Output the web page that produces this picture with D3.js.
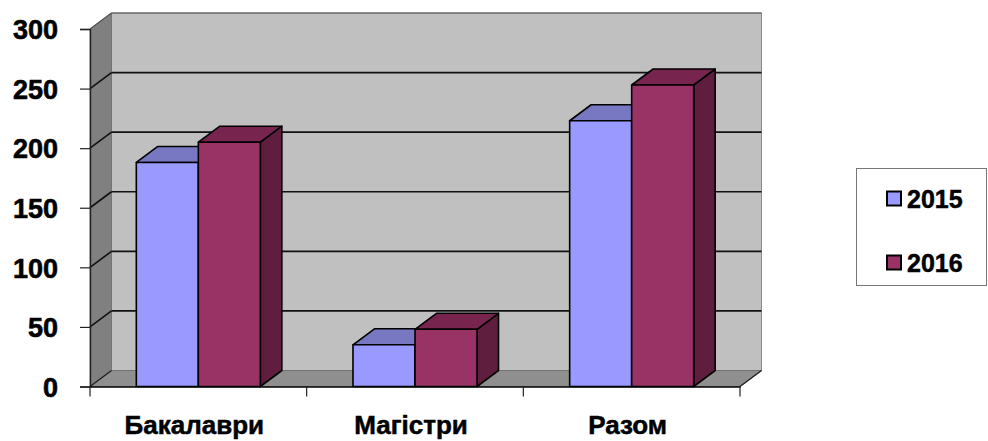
<!DOCTYPE html>
<html>
<head>
<meta charset="utf-8">
<script src="https://cdn.jsdelivr.net/npm/d3@7"></script>
<style>
  html, body { margin: 0; padding: 0; background: #ffffff; }
  svg { display: block; }
</style>
</head>
<body>
<svg id="chart" width="988" height="441"></svg>
<script>
const categories = ["Бакалаври", "Магістри", "Разом"];
const seriesNames = ["2015", "2016"];
const values2015 = [188, 35, 223];
const values2016 = [205, 48, 253];
const yTicks = [0, 50, 100, 150, 200, 250, 300];

const colors = {
  "2015": { front: "#9999ff", top: "#7777c2", side: "#5c5c99" },
  "2016": { front: "#993366", top: "#77244f", side: "#5f1e3e" }
};
const FONT = "'Liberation Sans', Arial, sans-serif";

const svg = d3.select("#chart");
const dx = 21.5, dy = -16;
const x0 = 90, x1 = 740;
const y = d3.scaleLinear().domain([0, 300]).range([386.5, 29]);
const x = d3.scaleBand().domain(categories).range([x0, x1]).paddingInner(0).paddingOuter(0);
const xs = d3.scaleBand().domain(seriesNames).range([0, x.bandwidth()]).paddingInner(0).paddingOuter(0.747);

const yTop = y(300), yBot = y(0);

// back wall
svg.append("polygon")
  .attr("points", [[x0+dx, yTop+dy], [x1+dx, yTop+dy], [x1+dx, yBot+dy], [x0+dx, yBot+dy]].join(" "))
  .attr("fill", "#c0c0c0").attr("stroke", "#8a8a8a").attr("stroke-width", 1);

// left wall
svg.append("polygon")
  .attr("points", [[x0, yTop], [x0+dx, yTop+dy], [x0+dx, yBot+dy], [x0, yBot]].join(" "))
  .attr("fill", "#808080").attr("stroke", "#707070").attr("stroke-width", 0.8);

// floor
svg.append("polygon")
  .attr("points", [[x0, yBot], [x1, yBot], [x1+dx, yBot+dy], [x0+dx, yBot+dy]].join(" "))
  .attr("fill", "#8f8f8f").attr("stroke", "#6a6a6a").attr("stroke-width", 0.8);

// gridlines
const grid = svg.append("g");
yTicks.filter(v => v > 0 && v < 300).forEach(v => {
  grid.append("line").attr("x1", x0+dx).attr("x2", x1+dx)
    .attr("y1", y(v)+dy).attr("y2", y(v)+dy)
    .attr("stroke", "#111").attr("stroke-width", 1.6);
  grid.append("line").attr("x1", x0).attr("x2", x0+dx)
    .attr("y1", y(v)).attr("y2", y(v)+dy)
    .attr("stroke", "#111").attr("stroke-width", 1.6);
});
grid.append("line").attr("x1", x0).attr("x2", x0+dx).attr("y1", yTop).attr("y2", yTop+dy)
  .attr("stroke", "#555").attr("stroke-width", 1.2);
grid.append("line").attr("x1", x0+dx).attr("x2", x1+dx).attr("y1", yTop+dy).attr("y2", yTop+dy)
  .attr("stroke", "#555").attr("stroke-width", 1.2);
grid.append("line").attr("x1", x0).attr("x2", x0+dx).attr("y1", yBot).attr("y2", yBot+dy)
  .attr("stroke", "#222").attr("stroke-width", 1.4);
grid.append("line").attr("x1", x1).attr("x2", x1+dx).attr("y1", yBot).attr("y2", yBot+dy)
  .attr("stroke", "#222").attr("stroke-width", 1.4);

// bars
const bars = svg.append("g");
const seriesValues = { "2015": values2015, "2016": values2016 };
categories.forEach((c, i) => {
  seriesNames.forEach(s => {
    const v = seriesValues[s][i];
    const bx = x(c) + xs(s), bw = xs.bandwidth();
    const by = y(v), b0 = y(0);
    const col = colors[s];
    const g = bars.append("g").attr("stroke", "#000").attr("stroke-width", 1.6).attr("stroke-linejoin", "round");
    g.append("polygon")
      .attr("points", [[bx+bw, by], [bx+bw+dx, by+dy], [bx+bw+dx, b0+dy], [bx+bw, b0]].join(" "))
      .attr("fill", col.side);
    g.append("polygon")
      .attr("points", [[bx, by], [bx+dx, by+dy], [bx+bw+dx, by+dy], [bx+bw, by]].join(" "))
      .attr("fill", col.top);
    g.append("rect").attr("x", bx).attr("y", by).attr("width", bw).attr("height", b0 - by)
      .attr("fill", col.front);
  });
});

// y axis
const yAxisG = svg.append("g").attr("transform", `translate(${x0},0)`)
  .call(d3.axisLeft(y).tickValues(yTicks).tickSize(10).tickPadding(20));
yAxisG.attr("font-family", FONT).attr("font-size", 27).attr("font-weight", "bold");
yAxisG.select(".domain").attr("stroke", "#222").attr("stroke-width", 1.4);
yAxisG.selectAll(".tick line").attr("stroke", "#222").attr("stroke-width", 1.2);
yAxisG.selectAll(".tick text").attr("fill", "#000").attr("stroke", "#000").attr("stroke-width", 0.6)
  .attr("x", -32).attr("dy", "0.36em");

// x axis
const xAxisG = svg.append("g").attr("transform", `translate(0,${yBot})`)
  .call(d3.axisBottom(x).tickSize(0).tickPadding(0));
xAxisG.attr("font-family", FONT).attr("font-size", 26).attr("font-weight", "bold");
xAxisG.select(".domain").attr("stroke", "#000").attr("stroke-width", 1.6);
xAxisG.selectAll(".tick text").attr("fill", "#000").attr("stroke", "#000").attr("stroke-width", 0.5)
  .attr("y", 47).attr("dy", 0);
xAxisG.selectAll(".tick").attr("transform", d => `translate(${x(d) + x.bandwidth()/2 - 4},0)`);
const sepTicks = categories.map(c => x(c)).concat([x1]);
xAxisG.selectAll(".sep").data(sepTicks).enter().append("line").attr("class", "sep")
  .attr("x1", d => d).attr("x2", d => d).attr("y1", 0).attr("y2", 10)
  .attr("stroke", "#222").attr("stroke-width", 1.2);

// legend
const leg = svg.append("g").attr("font-family", FONT).attr("font-weight", "bold");
leg.append("rect").attr("x", 856.5).attr("y", 168.5).attr("width", 130).attr("height", 117)
  .attr("fill", "#fff").attr("stroke", "#777").attr("stroke-width", 1);
const legY = d3.scalePoint().domain(seriesNames).range([199, 263]);
seriesNames.forEach(s => {
  leg.append("rect").attr("x", 887).attr("y", legY(s) - 7.5).attr("width", 14).attr("height", 14)
    .attr("fill", colors[s].front).attr("stroke", "#000").attr("stroke-width", 2);
  leg.append("text").attr("x", 907).attr("y", legY(s) + 9).attr("font-size", 25)
    .attr("fill", "#000").attr("stroke", "#000").attr("stroke-width", 0.5).text(s);
});
</script>
</body>
</html>
